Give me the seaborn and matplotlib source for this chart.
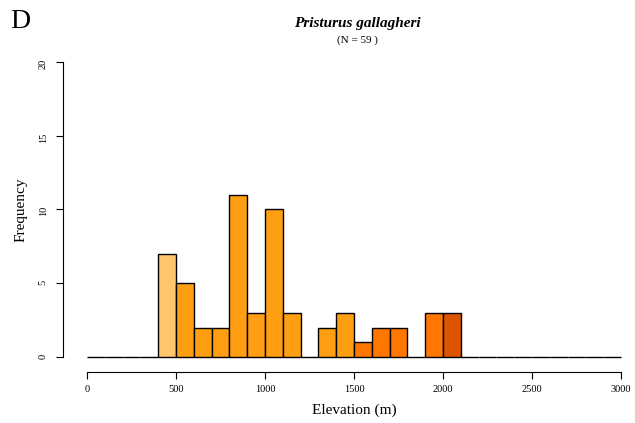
import numpy as np
import matplotlib
matplotlib.use("Agg")
import matplotlib.pyplot as plt
import seaborn as sns

# elevation bins (m), 100 m wide, and counts per bin
bin_edges = list(range(0, 3100, 100))
bin_starts = [400, 500, 600, 700, 800, 900, 1000, 1100, 1300, 1400, 1500, 1600, 1700, 1900, 2000]
counts = [7, 5, 2, 2, 11, 3, 10, 3, 2, 3, 1, 2, 2, 3, 3]
x_ticks = [0, 500, 1000, 1500, 2000, 2500, 3000]
y_ticks = [0, 5, 10, 15, 20]
species = "Pristurus gallagheri"
n_total = sum(counts)

sns.set_style("white")
plt.rcParams["font.family"] = ["Liberation Serif", "DejaVu Serif"]
plt.rcParams["text.color"] = "black"
plt.rcParams["axes.labelcolor"] = "black"
plt.rcParams["xtick.color"] = "black"
plt.rcParams["ytick.color"] = "black"

W, H = 635, 423
fig = plt.figure(figsize=(W / 100, H / 100), dpi=100)
ax = fig.add_axes([87 / W, (H - 357) / H, 534 / W, 295 / H])

mids = [b + 50 for b in bin_starts]
sns.histplot(x=mids, weights=counts, bins=bin_edges, ax=ax,
             edgecolor="black", linewidth=1.0, alpha=1, color="#FF9E12")

def band_color(left):
    if left < 500:
        return "#FFC46E"
    if left < 1500:
        return "#FE9E12"
    if left < 2000:
        return "#FF7700"
    return "#DE5300"

for p in ax.patches:
    p.set_facecolor(band_color(p.get_x()))
    p.set_clip_on(False)

ax.set_xlim(0, 3000)
ax.set_ylim(0, 20)
ax.set_xticks(x_ticks)
ax.set_yticks(y_ticks)
ax.tick_params(axis="both", direction="out", length=5, width=0.8, colors="black", pad=4,
               bottom=True, left=True, labelsize=7.5)
ax.tick_params(axis="y", labelrotation=90, pad=6)
for lbl in ax.get_yticklabels():
    lbl.set_va("center")
for s in ["top", "right"]:
    ax.spines[s].set_visible(False)
ax.spines["left"].set_position(("outward", 24 * 0.72))
ax.spines["bottom"].set_position(("outward", 15 * 0.72))
ax.spines["left"].set_bounds(0, 20)
ax.spines["bottom"].set_bounds(0, 3000)
for s in ["left", "bottom"]:
    ax.spines[s].set_color("black")
    ax.spines[s].set_linewidth(0.8)

ax.set_xlabel("Elevation (m)", fontsize=11, labelpad=7)
ax.set_ylabel("Frequency", fontsize=11, labelpad=8)

fig.text(357 / W, 1 - 23 / H, species, fontsize=11, fontweight="bold", fontstyle="italic",
         ha="center", va="center")
fig.text(357 / W, 1 - 40 / H, f"(N = {n_total} )", fontsize=8, ha="center", va="center")
fig.text(10 / W, 1 - 22 / H, "D", fontsize=20, ha="left", va="center")

fig.savefig("out.png", dpi=100)
